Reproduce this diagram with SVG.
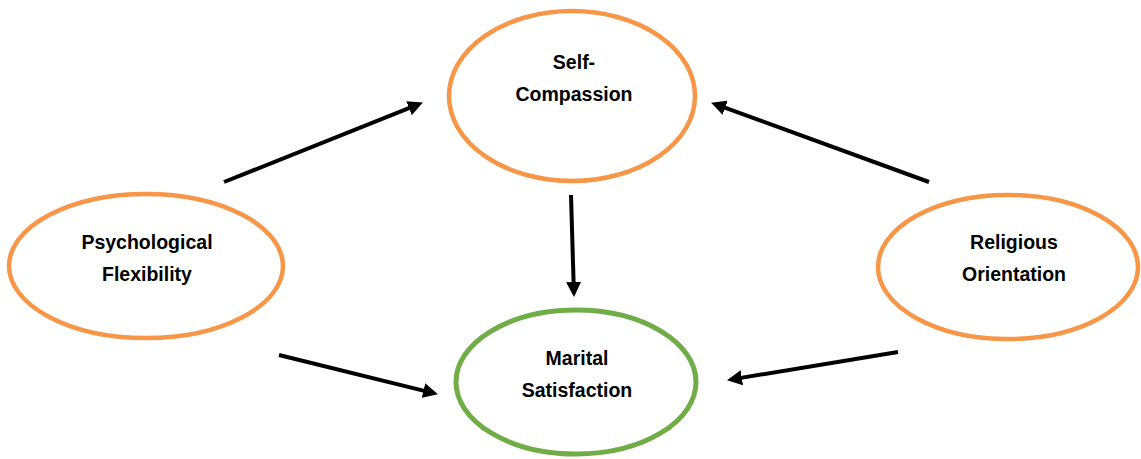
<svg xmlns="http://www.w3.org/2000/svg" width="1141" height="459" viewBox="0 0 1141 459">
<style>
.orange{fill:#fff;stroke:#F79646;stroke-width:4.5}
.green{fill:#fff;stroke:#70AD47;stroke-width:5}
.lbl{font-family:"Liberation Sans",Arial,sans-serif;font-weight:bold;font-size:19.5px;fill:#000;text-anchor:middle}
.conn{stroke:#000;stroke-width:4;fill:none}
</style>
<defs>
<marker id="ah" markerUnits="userSpaceOnUse" markerWidth="15" markerHeight="15" refX="4" refY="7.5" orient="auto" viewBox="0 0 15 15">
<path d="M0,0 L15,7.5 L0,15 z" fill="#000"/>
</marker>
</defs>
<rect width="1141" height="459" fill="#fff"/>
<g id="self-compassion">
<ellipse class="orange" cx="572" cy="96" rx="123" ry="85"/>
<text class="lbl" x="574" y="69">Self-</text>
<text class="lbl" x="574" y="101">Compassion</text>
</g>
<g id="marital-satisfaction">
<ellipse class="green" cx="576" cy="382" rx="120" ry="72"/>
<text class="lbl" x="577" y="365">Marital</text>
<text class="lbl" x="577" y="397">Satisfaction</text>
</g>
<g id="psychological-flexibility">
<ellipse class="orange" cx="146" cy="266" rx="137" ry="72"/>
<text class="lbl" x="147" y="249">Psychological</text>
<text class="lbl" x="147" y="281">Flexibility</text>
</g>
<g id="religious-orientation">
<ellipse class="orange" cx="1008" cy="267" rx="130" ry="72"/>
<text class="lbl" x="1014" y="249">Religious</text>
<text class="lbl" x="1014" y="281">Orientation</text>
</g>
<g id="connectors">
<line class="conn" x1="224" y1="182" x2="412.7" y2="106.7" marker-end="url(#ah)"/>
<line class="conn" x1="929" y1="182" x2="721.4" y2="106.4" marker-end="url(#ah)"/>
<line class="conn" x1="571" y1="195" x2="573.7" y2="286" marker-end="url(#ah)"/>
<line class="conn" x1="279" y1="355" x2="427.3" y2="391.6" marker-end="url(#ah)"/>
<line class="conn" x1="898" y1="352" x2="737.9" y2="378.4" marker-end="url(#ah)"/>
</g>
</svg>
